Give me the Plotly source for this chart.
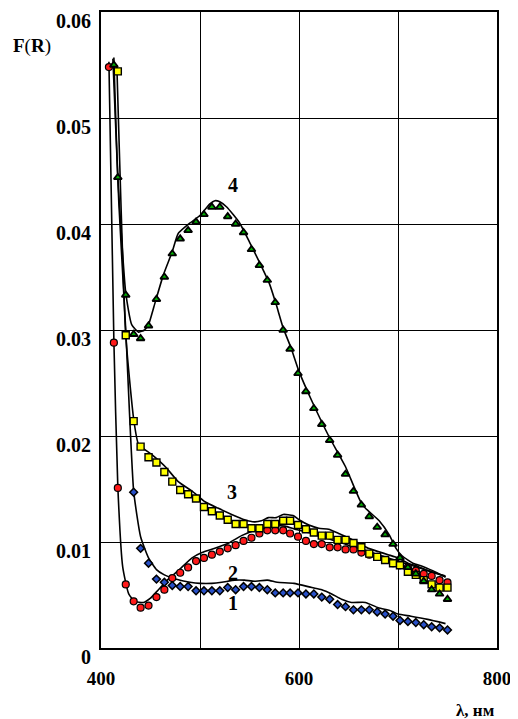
import plotly.graph_objects as go

# ---- data ----
LAMBDA = [408, 413, 417, 425, 433, 440, 448, 456, 464, 472, 480, 488, 496, 504, 512,
          520, 528, 536, 544, 552, 560, 568, 576, 584, 591, 599, 607, 615, 623, 631,
          639, 647, 655, 663, 671, 679, 687, 695, 702, 710, 718, 726, 734, 742, 750]

S1 = [None, None, None, None, .0147, .0094, .0080, .0065, .0062, .0059, .0058, .0058, .0054, .0054, .0054,
      .0054, .0057, .0055, .0058, .0058, .0057, .0055, .0052, .0052, .0052, .0052, .0051, .0051, .0048, .0046,
      .0041, .0039, .0036, .0036, .0036, .0034, .0032, .0030, .0026, .0025, .0024, .0022, .0020, .0019, .0017]

S2 = [.0548, .0288, .0151, .0060, .0044, .0038, .0040, .0048, .0055, .0066, .0071, .0076, .0082, .0085, .0088,
      .0091, .0094, .0097, .0101, .0104, .0108, .0111, .0111, .0111, .0108, .0105, .0101, .0098, .0098, .0095,
      .0095, .0093, .0093, .0090, .0088, .0086, .0083, .0080, .0078, .0076, .0073, .0070, .0068, .0064, .0062]

S3 = [None, None, .0544, .0295, .0214, .0190, .0180, .0175, .0166, .0157, .0149, .0145, .0141, .0133, .0129,
      .0125, .0121, .0117, .0117, .0113, .0113, .0117, .0117, .0120, .0120, .0116, .0112, .0109, .0106, .0106,
      .0102, .0102, .0099, .0095, .0089, .0086, .0083, .0080, .0078, .0072, .0069, .0064, .0060, .0057, .0057]

S4 = [None, .0550, .0444, .0333, .0296, .0292, .0304, .0329, .0350, .0372, .0386, .0394, .0402, .0409, .0416,
      .0416, .0407, .0400, .0392, .0376, .0361, .0347, .0326, .0300, .0282, .0259, .0242, .0226, .0211, .0196,
      .0182, .0164, .0148, .0135, .0124, .0114, .0107, .0098, .0085, .0076, .0070, .0063, .0055, .0051, .0046]

# fitted curves (solid lines)
L1_X = [412, 418, 425, 433, 440, 448, 456, 464, 472, 480, 490, 500, 512, 522, 535, 545, 555, 568,
        578, 595, 613, 623, 633, 643, 653, 667, 680, 693, 700, 713, 730, 748]
L1_Y = [.0556, .0420, .0300, .0148, .0105, .0085, .0074, .0069, .0066, .0064, .0062, .0061, .0061, .0062,
        .0064, .0064, .0063, .0064, .0062, .0061, .0057, .0055, .0051, .0046, .0043, .0043, .0038, .0035,
        .0032, .0030, .0027, .0023]

L2_X = [408, 413, 417, 422, 428, 434, 443, 450, 458, 468, 478, 492, 502, 515, 529, 542, 552, 562, 576,
        586, 596, 610, 620, 630, 640, 650, 660, 670, 680, 690, 700, 710, 720, 730, 740, 748]
L2_Y = [.0553, .0290, .0152, .0076, .0051, .0044, .0043, .0047, .0055, .0065, .0073, .0085, .0090, .0094,
        .0099, .0106, .0110, .0112, .0115, .0115, .0112, .0109, .0106, .0103, .0100, .0097, .0094, .0091,
        .0088, .0085, .0082, .0079, .0076, .0073, .0070, .0068]

L3_X = [416, 425, 433, 438, 452, 465, 478, 492, 505, 518, 532, 545, 555, 562, 569, 577, 584, 594, 600,
        610, 620, 630, 640, 650, 660, 670, 680, 690, 700, 710, 720, 730, 740, 748]
L3_Y = [.0550, .0295, .0216, .0192, .0182, .0171, .0157, .0148, .0138, .0132, .0126, .0121, .0119, .0120,
        .0123, .0123, .0126, .0125, .0121, .0116, .0113, .0112, .0108, .0104, .0099, .0094, .0091, .0088,
        .0085, .0080, .0077, .0073, .0070, .0067]

L4_X = [413, 417, 425, 431, 438, 444, 448, 455, 463, 472, 478, 490, 500, 510, 515, 520, 527, 540, 550,
        560, 570, 577, 584, 592, 600, 613, 630, 647, 664, 681, 691, 698, 704, 715, 725, 735, 748]
L4_Y = [.0557, .0445, .0335, .0305, .0298, .0300, .0305, .0327, .0352, .0374, .0391, .0401, .0408, .0419,
        .0422, .0421, .0416, .0401, .0383, .0364, .0344, .0324, .0302, .0283, .0261, .0233, .0200, .0171,
        .0135, .0120, .0107, .0094, .0087, .0080, .0077, .0073, .0067]

X_TICKS = [400, 500, 600, 700, 800]
X_TEXT = ["400", "", "600", "", "800"]
Y_TICKS = [0, 0.01, 0.02, 0.03, 0.04, 0.05, 0.06]
Y_TEXT = ["0", "0.01", "0.02", "0.03", "0.04", "0.05", "0.06"]

CURVE_LABELS = ["1", "2", "3", "4"]
LABEL_X = [533, 533, 532, 533]
LABEL_Y = [0.0042, 0.0071, 0.0147, 0.0437]

FONT = "Liberation Serif, Times New Roman, serif"

fig = go.Figure()

line_style = dict(color="black", width=1.6, shape="spline", smoothing=0.5)
for lx, ly in [(L1_X, L1_Y), (L2_X, L2_Y), (L3_X, L3_Y), (L4_X, L4_Y)]:
    fig.add_trace(go.Scatter(x=lx, y=ly, mode="lines", line=line_style,
                             showlegend=False, hoverinfo="skip"))

markers = [
    (S1, "diamond", "#2850c8", 6, 1.5),
    (S2, "circle", "#ff1a1a", 7, 1.2),
    (S3, "square", "#ffff00", 7, 1.4),
    (S4, "triangle-up", "#00b000", 7, 1.8),
]
for vals, sym, col, sz, lw in markers:
    fig.add_trace(go.Scatter(x=LAMBDA, y=vals, mode="markers",
                             marker=dict(symbol=sym, color=col, size=sz,
                                         line=dict(color="black", width=lw)),
                             showlegend=False))

for t, x, y in zip(CURVE_LABELS, LABEL_X, LABEL_Y):
    fig.add_annotation(x=x, y=y, text=t, showarrow=False,
                       font=dict(family=FONT, size=20, color="black", weight="bold"))

fig.add_annotation(xref="paper", yref="paper", x=-0.174, y=0.9466, xanchor="center", yanchor="middle",
                   text="<b>F</b>(<b>R</b>)", showarrow=False,
                   font=dict(family=FONT, size=19, color="black"))
fig.add_annotation(xref="paper", yref="paper", x=1.0, y=-0.099, xanchor="right", yanchor="middle",
                   text="<b>λ, нм</b>", showarrow=False,
                   font=dict(family=FONT, size=17, color="black"))

fig.update_xaxes(range=[400, 800], tickvals=X_TICKS, ticktext=X_TEXT,
                 showgrid=True, gridcolor="black", gridwidth=1,
                 showline=True, linecolor="black", linewidth=2, mirror=True,
                 ticks="", zeroline=False, ticklabelstandoff=12,
                 tickfont=dict(family=FONT, size=19, color="black", weight="bold"))
fig.update_yaxes(range=[0, 0.06], tickvals=Y_TICKS, ticktext=Y_TEXT,
                 showgrid=True, gridcolor="black", gridwidth=1,
                 showline=True, linecolor="black", linewidth=2, mirror=True,
                 ticks="", zeroline=False, ticklabelstandoff=4, ticklabelshift=9,
                 tickfont=dict(family=FONT, size=20, color="black", weight="bold"))

# page body has an 8px margin, so the figure is 8px smaller and margins are reduced by 8
fig.update_layout(width=510, height=711,
                  margin=dict(l=93, r=21, t=2, b=71),
                  plot_bgcolor="white", paper_bgcolor="white",
                  showlegend=False)

fig.write_html("out.html")
